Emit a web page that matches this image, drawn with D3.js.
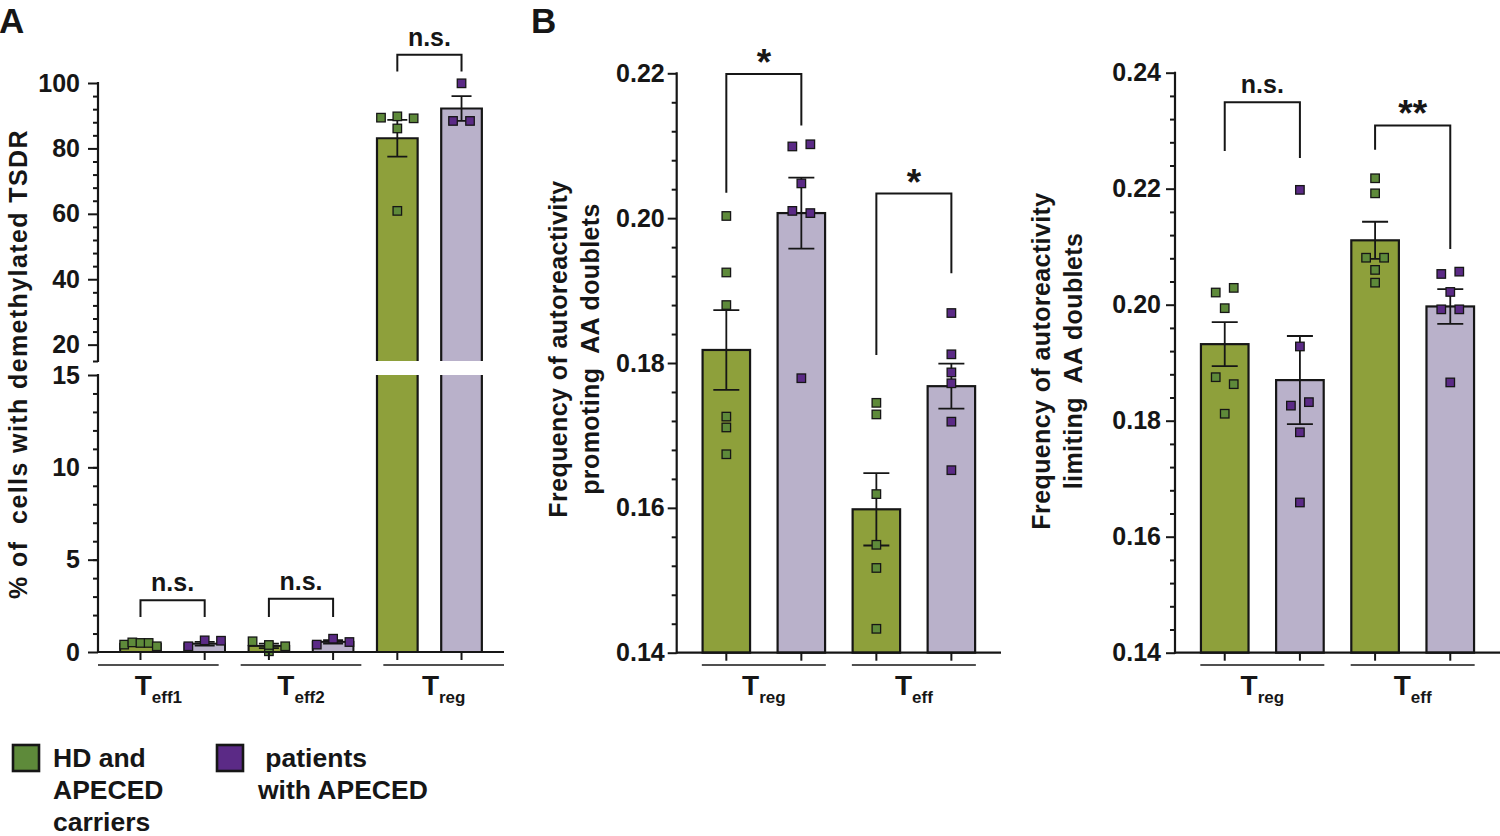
<!DOCTYPE html>
<html>
<head>
<meta charset="utf-8">
<script src="https://cdn.jsdelivr.net/npm/d3@7"></script>
<style>
  body { margin: 0; background: #fff; }
  text { font-family: "Liberation Sans", Arial, sans-serif; font-weight: bold; fill: #161616; }
</style>
</head>
<body>
<svg id="chart" width="1500" height="836"></svg>
<script>
// ---------------- DATA ----------------
const seriesNames = ["HD and APECED carriers", "patients with APECED"];

// Panel A: % of cells with demethylated TSDR
const A_groups = ["eff1", "eff2", "reg"];
const A_hdMean = [0.44, 0.33, 83.1];
const A_hdSem  = [0.04, 0.12, 5.6];
const A_ptMean = [0.45, 0.55, 92.2];
const A_ptSem  = [0.10, 0.09, 3.8];
const A_hdPts = [[0.40, 0.52, 0.49, 0.49, 0.31], [0.58, 0.04, 0.38, 0.31], [89.4, 89.8, 89.2, 86.1, 60.9]];
const A_ptPts = [[0.31, 0.63, 0.61], [0.40, 0.72, 0.54], [99.9, 88.4, 88.4]];
const A_sigLabel = ["n.s.", "n.s.", "n.s."];
const A_sigTop   = [2.8, 2.88, 108.6];
const A_sigLegL  = [1.9, 1.9, 103.5];
const A_sigLegR  = [1.9, 1.9, 103.5];
const A_ticksTop = [20, 40, 60, 80, 100];
const A_ticksBottom = [0, 5, 10, 15];

// Panel B (left): autoreactivity promoting AA doublets
const B_groups = ["reg", "eff"];
const B1_hdMean = [0.1818, 0.1598];
const B1_hdSem  = [0.0055, 0.0050];
const B1_ptMean = [0.2007, 0.1768];
const B1_ptSem  = [0.0049, 0.0031];
const B1_hdPts = [[0.2003, 0.1925, 0.1880, 0.1726, 0.1711, 0.1674], [0.1745, 0.1729, 0.1619, 0.1549, 0.1517, 0.1433]];
const B1_ptPts = [[0.2099, 0.2102, 0.2048, 0.2010, 0.2007, 0.1779], [0.1869, 0.1812, 0.1787, 0.1772, 0.1719, 0.1652]];
const B1_sigLabel = ["*", "*"];
const B1_sigTop  = [0.2199, 0.2034];
const B1_sigLegL = [0.2035, 0.1811];
const B1_sigLegR = [0.2128, 0.1924];
const B1_ticks = [0.14, 0.16, 0.18, 0.20, 0.22];

// Panel B (right): autoreactivity limiting AA doublets
const B2_hdMean = [0.1932, 0.2111];
const B2_hdSem  = [0.0038, 0.0032];
const B2_ptMean = [0.1870, 0.1997];
const B2_ptSem  = [0.0076, 0.0030];
const B2_hdPts = [[0.2021, 0.2029, 0.1994, 0.1875, 0.1863, 0.1812], [0.2218, 0.2192, 0.2081, 0.2081, 0.2060, 0.2038]];
const B2_ptPts = [[0.2198, 0.1928, 0.1826, 0.1832, 0.1780, 0.1659], [0.2053, 0.2057, 0.2022, 0.1992, 0.1992, 0.1866]];
const B2_sigLabel = ["n.s.", "**"];
const B2_sigTop  = [0.2349, 0.2309];
const B2_sigLegL = [0.2265, 0.2267];
const B2_sigLegR = [0.2253, 0.2096];
const B2_ticks = [0.14, 0.16, 0.18, 0.20, 0.22, 0.24];

// ---------------- STYLE ----------------
const COL = { barHD: "#8ea03b", barPT: "#b9b1ca", ptHD: "#5e8a3a", ptPT: "#5b2a86", ink: "#161616" };
const PT = 8.5;

const svg = d3.select("#chart");

function bandX(x0, x1, n) {
  return d3.scaleBand().domain(d3.range(n)).range([x0, x1]).paddingInner(0.367).paddingOuter(0.345);
}

function swarm(vals, yf, cx, spacing, bw) {
  const items = vals.map((v, i) => ({ v, i, y: yf(v) }));
  const sorted = items.slice().sort((a, b) => a.y - b.y);
  const rows = []; let cur = null;
  sorted.forEach(p => {
    if (cur && Math.abs(p.y - cur[0].y) < 9) cur.push(p);
    else { cur = [p]; rows.push(cur); }
  });
  rows.forEach(r => {
    r.sort((a, b) => a.i - b.i);
    const n = r.length;
    const s = n > 1 ? Math.min(spacing, (bw - 8) / (n - 1)) : 0;
    r.forEach((p, k) => { p.x = cx + (k - (n - 1) / 2) * s; });
  });
  return items;
}

function drawPoints(g, pts, color) {
  g.selectAll(null).data(pts).enter().append("rect")
    .attr("x", d => d.x - PT / 2).attr("y", d => d.y - PT / 2)
    .attr("width", PT).attr("height", PT)
    .attr("fill", color).attr("stroke", COL.ink).attr("stroke-width", 1.3);
}

function errBar(g, cx, yLo, yHi, cap) {
  g.append("path")
    .attr("d", `M${cx},${yLo}V${yHi}M${cx - cap / 2},${yHi}H${cx + cap / 2}M${cx - cap / 2},${yLo}H${cx + cap / 2}`)
    .attr("stroke", COL.ink).attr("stroke-width", 1.8).attr("fill", "none");
}

function bracket(g, xL, xR, yTop, yL, yR, label) {
  g.append("path").attr("d", `M${xL},${yL}V${yTop}H${xR}V${yR}`)
    .attr("stroke", COL.ink).attr("stroke-width", 2).attr("fill", "none");
  const star = label.indexOf("*") >= 0;
  g.append("text").attr("x", (xL + xR) / 2).attr("y", star ? yTop + 1 : yTop - 9)
    .attr("text-anchor", "middle").style("font-size", star ? "37px" : "25px").text(label);
}

function yAxis(g, x, scale, major, minor, tickLen, pad, fmt) {
  const ax = g.append("g").attr("transform", `translate(${x},0)`);
  ax.call(d3.axisLeft(scale).tickValues(minor).tickSize(5).tickFormat(""));
  ax.call(gg => gg.selectAll("path.domain").remove());
  const ax2 = g.append("g").attr("transform", `translate(${x},0)`);
  ax2.call(d3.axisLeft(scale).tickValues(major).tickSize(tickLen).tickSizeOuter(0).tickPadding(pad).tickFormat(fmt));
  ax2.selectAll("path.domain").remove();
  g.selectAll(".tick line").attr("stroke", COL.ink).attr("stroke-width", 2);
  ax2.selectAll(".tick text").style("font-size", "25px").attr("fill", COL.ink)
    .style("font-family", '"Liberation Sans", Arial, sans-serif').style("font-weight", "bold");
  const r = scale.range();
  g.append("line").attr("x1", x).attr("x2", x).attr("y1", r[0] + 1).attr("y2", r[1] - 1)
    .attr("stroke", COL.ink).attr("stroke-width", 2.2);
}

function xAxisGroups(g, xs, x0, x1, yBase, groups, spans) {
  g.append("line").attr("x1", x0).attr("x2", x1).attr("y1", yBase).attr("y2", yBase)
    .attr("stroke", COL.ink).attr("stroke-width", 2.2);
  xs.domain().forEach(i => {
    const cx = xs(i) + xs.bandwidth() / 2;
    g.append("line").attr("x1", cx).attr("x2", cx).attr("y1", yBase).attr("y2", yBase + 8)
      .attr("stroke", COL.ink).attr("stroke-width", 2);
  });
  groups.forEach((sub, gi) => {
    const [a, b] = spans[gi];
    g.append("line").attr("x1", a).attr("x2", b).attr("y1", 665).attr("y2", 665)
      .attr("stroke", COL.ink).attr("stroke-width", 1.6);
    const t = g.append("text").attr("x", (a + b) / 2).attr("y", 695).attr("text-anchor", "middle");
    t.append("tspan").style("font-size", "28px").text("T");
    t.append("tspan").style("font-size", "17px").attr("dy", 8).text(sub);
  });
}

function yTitle(g, x, y, lines, size, spacing, ls) {
  const t = g.append("text").attr("transform", `translate(${x},${y}) rotate(-90)`)
    .attr("text-anchor", "middle").style("font-size", size + "px").style("letter-spacing", ls + "px");
  lines.forEach((ln, i) => {
    t.append("tspan").attr("x", 0).attr("y", i * spacing).style("white-space", "pre").text(ln);
  });
}

// ---------------- PANEL A ----------------
(function () {
  const g = svg.append("g");
  const ax0 = 98, ax1 = 504;
  const yTop = d3.scaleLinear().domain([15, 100]).range([361, 83]);
  const yBot = d3.scaleLinear().domain([0, 15]).range([652, 375]);
  const yv = v => v >= 15 ? yTop(v) : yBot(v);
  const xs = bandX(ax0, ax1, A_groups.length * 2);
  const bw = xs.bandwidth();

  const means = [A_hdMean, A_ptMean], sems = [A_hdSem, A_ptSem], pts = [A_hdPts, A_ptPts];
  const barCol = [COL.barHD, COL.barPT], ptCol = [COL.ptHD, COL.ptPT];

  A_groups.forEach((_, gi) => {
    [0, 1].forEach(s => {
      const i = gi * 2 + s, x = xs(i), cx = x + bw / 2, m = means[s][gi];
      if (m <= 15) {
        g.append("rect").attr("x", x).attr("y", yBot(m)).attr("width", bw).attr("height", yBot(0) - yBot(m))
          .attr("fill", barCol[s]).attr("stroke", COL.ink).attr("stroke-width", 2);
      } else {
        g.append("rect").attr("x", x).attr("y", yBot(15)).attr("width", bw).attr("height", yBot(0) - yBot(15))
          .attr("fill", barCol[s]);
        g.append("path").attr("d", `M${x},${yBot(0)}V${yBot(15)}M${x + bw},${yBot(0)}V${yBot(15)}`)
          .attr("stroke", COL.ink).attr("stroke-width", 2.2).attr("fill", "none");
        g.append("rect").attr("x", x).attr("y", yTop(m)).attr("width", bw).attr("height", yTop(15) - yTop(m))
          .attr("fill", barCol[s]);
        g.append("path").attr("d", `M${x},${yTop(15)}V${yTop(m)}H${x + bw}V${yTop(15)}`)
          .attr("stroke", COL.ink).attr("stroke-width", 2.2).attr("fill", "none");
      }
      const e = sems[s][gi];
      errBar(g, cx, yv(Math.max(0, m - e)), yv(m + e), 20);
    });
  });
  A_groups.forEach((_, gi) => {
    [0, 1].forEach(s => {
      const i = gi * 2 + s, cx = xs(i) + bw / 2;
      drawPoints(g, swarm(pts[s][gi], yv, cx, 17, bw), ptCol[s]);
    });
  });

  // axes
  yAxis(g, ax0, yTop, A_ticksTop, d3.range(24, 100, 4).filter(v => v % 20 !== 0).concat([15]), 10, 8, d3.format("d"));
  yAxis(g, ax0, yBot, A_ticksBottom, d3.range(1, 15), 10, 8, d3.format("d"));

  const secW = (ax1 - ax0 - 2 * 22) / 3;
  const spans = A_groups.map((_, gi) => [ax0 + gi * (secW + 22), ax0 + gi * (secW + 22) + secW]);
  xAxisGroups(g, xs, ax0, ax1, 652, A_groups, spans);

  A_groups.forEach((_, gi) => {
    const xL = xs(gi * 2) + bw / 2, xR = xs(gi * 2 + 1) + bw / 2;
    bracket(g, xL, xR, yv(A_sigTop[gi]), yv(A_sigLegL[gi]), yv(A_sigLegR[gi]), A_sigLabel[gi]);
  });

  yTitle(g, 27, 364, ["% of  cells with demethylated TSDR"], 25, 0, 1.4);
  g.append("text").attr("x", -1).attr("y", 33).style("font-size", "35px").text("A");
})();

// ---------------- PANEL B ----------------
function panelB(cfg) {
  const g = svg.append("g");
  const y = d3.scaleLinear().domain(cfg.domain).range([652.7, cfg.yTopPx]);
  const xs = bandX(cfg.x0, cfg.x1, B_groups.length * 2);
  const bw = xs.bandwidth();
  const means = [cfg.hdMean, cfg.ptMean], sems = [cfg.hdSem, cfg.ptSem], pts = [cfg.hdPts, cfg.ptPts];
  const barCol = [COL.barHD, COL.barPT], ptCol = [COL.ptHD, COL.ptPT];

  B_groups.forEach((_, gi) => {
    [0, 1].forEach(s => {
      const i = gi * 2 + s, x = xs(i), cx = x + bw / 2, m = means[s][gi];
      g.append("rect").attr("x", x).attr("y", y(m)).attr("width", bw).attr("height", y(cfg.domain[0]) - y(m))
        .attr("fill", barCol[s]).attr("stroke", COL.ink).attr("stroke-width", 2.2);
      const e = sems[s][gi];
      errBar(g, cx, y(m - e), y(m + e), 26);
    });
  });
  B_groups.forEach((_, gi) => {
    [0, 1].forEach(s => {
      const i = gi * 2 + s, cx = xs(i) + bw / 2;
      drawPoints(g, swarm(pts[s][gi], y, cx, 18, bw), ptCol[s]);
    });
  });

  const minor = d3.range(cfg.domain[0], cfg.domain[1] + 1e-9, 0.004)
    .filter(v => !cfg.ticks.some(t => Math.abs(t - v) < 1e-6));
  yAxis(g, cfg.x0, y, cfg.ticks, minor, 9, cfg.pad, d3.format(".2f"));

  const spans = B_groups.map((_, gi) => {
    const c = (xs(gi * 2) + xs(gi * 2 + 1) + bw) / 2;
    return [c - 62, c + 62];
  });
  xAxisGroups(g, xs, cfg.x0, cfg.x1, 652.7, B_groups, spans);

  B_groups.forEach((_, gi) => {
    const xL = xs(gi * 2) + bw / 2, xR = xs(gi * 2 + 1) + bw / 2;
    bracket(g, xL, xR, y(cfg.sigTop[gi]), y(cfg.sigLegL[gi]), y(cfg.sigLegR[gi]), cfg.sigLabel[gi]);
  });

  yTitle(g, cfg.titleX, cfg.titleY, cfg.title, 25, 32, 0.4);
}

panelB({
  x0: 676.7, x1: 1001, domain: [0.14, 0.22], yTopPx: 73.3, ticks: B1_ticks, pad: 3,
  hdMean: B1_hdMean, hdSem: B1_hdSem, ptMean: B1_ptMean, ptSem: B1_ptSem,
  hdPts: B1_hdPts, ptPts: B1_ptPts,
  sigLabel: B1_sigLabel, sigTop: B1_sigTop, sigLegL: B1_sigLegL, sigLegR: B1_sigLegR,
  title: ["Frequency of autoreactivity", "promoting  AA doublets"], titleX: 567, titleY: 349
});

panelB({
  x0: 1175, x1: 1500, domain: [0.14, 0.24], yTopPx: 72.7, ticks: B2_ticks, pad: 5,
  hdMean: B2_hdMean, hdSem: B2_hdSem, ptMean: B2_ptMean, ptSem: B2_ptSem,
  hdPts: B2_hdPts, ptPts: B2_ptPts,
  sigLabel: B2_sigLabel, sigTop: B2_sigTop, sigLegL: B2_sigLegL, sigLegR: B2_sigLegR,
  title: ["Frequency of autoreactivity", "limiting  AA doublets"], titleX: 1050, titleY: 361
});

svg.append("text").attr("x", 531).attr("y", 33).style("font-size", "35px").text("B");

// ---------------- LEGEND ----------------
const legend = svg.append("g");
const legendLines = [["HD and", "APECED", "carriers"], [" patients", "with APECED"]];
const legendX = [13, 217], legendTextX = [53, 258];
[0, 1].forEach(s => {
  legend.append("rect").attr("x", legendX[s]).attr("y", 745).attr("width", 26).attr("height", 26)
    .attr("fill", [COL.ptHD, COL.ptPT][s]).attr("stroke", COL.ink).attr("stroke-width", 2.6);
  const t = legend.append("text").style("font-size", "26.5px");
  legendLines[s].forEach((ln, k) => {
    t.append("tspan").attr("x", legendTextX[s]).attr("y", 767 + k * 32).style("white-space", "pre").text(ln);
  });
});
</script>
</body>
</html>
